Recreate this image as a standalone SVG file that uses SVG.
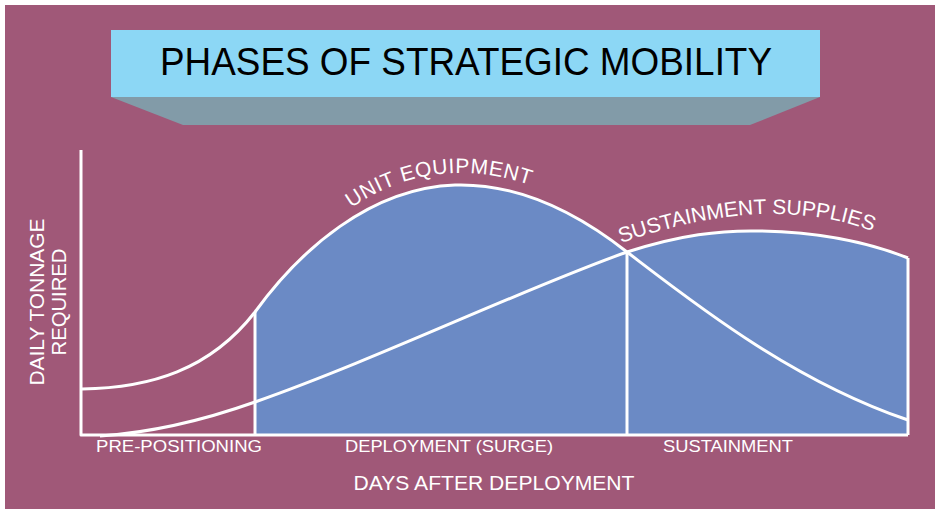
<svg xmlns="http://www.w3.org/2000/svg" width="935" height="509" viewBox="0 0 935 509">
<style>
.lbl{font-family:"Liberation Sans",Arial,sans-serif;fill:#fff}
.ln{fill:none;stroke:#fff;stroke-width:3;stroke-linejoin:round}
</style>
<rect x="0" y="0" width="935" height="509" fill="#fff"/>
<rect x="5" y="5" width="930" height="504" fill="#A05878"/>
<g id="title">
<polygon points="111,97 820,97 750,125 183,125" fill="#829BA8"/>
<rect x="111" y="30" width="709" height="67" fill="#8CD7F5"/>
<text x="466" y="75" text-anchor="middle" font-family="Liberation Sans,Arial,sans-serif" font-size="39" fill="#000" textLength="612" lengthAdjust="spacingAndGlyphs">PHASES OF STRATEGIC MOBILITY</text>
</g>
<g id="area">
<path d="M255,312 C300,250 370,188 455,185 C520,183 580,215 627,252 C680,235 720,230 760,231 C820,232 870,243 908,258 L908,435 L255,435 Z" fill="#6B8AC5"/>
</g>
<g id="connectors">
<path class="ln" d="M81,150 L81,435 L908,435"/>
<path class="ln" d="M82,389 C150,388 210,370 255,312 C300,250 370,188 455,185 C520,183 580,215 627,252 C690,300 790,380 908,420"/>
<path class="ln" d="M100,436 C160,432 210,418 255,402 C380,358 520,290 627,252 C680,235 720,230 760,231 C820,232 870,243 908,258"/>
<line class="ln" x1="255" y1="312" x2="255" y2="435"/>
<line class="ln" x1="627" y1="252" x2="627" y2="435"/>
<line class="ln" x1="908" y1="258" x2="908" y2="435" stroke-width="2"/>
</g>
<defs>
<path id="p1" d="M345,213 C380,186 420,173 460,173 C490,173 515,179 545,190"/>
<path id="p2" d="M618,244 C680,222 740,212 780,214 C830,216 860,225 885,237"/>
</defs>
<g id="curve-labels">
<text class="lbl" font-size="21" letter-spacing="0.6"><textPath href="#p1" startOffset="8">UNIT EQUIPMENT</textPath></text>
<text class="lbl" font-size="21"><textPath href="#p2" startOffset="3">SUSTAINMENT SUPPLIES</textPath></text>
</g>
<g id="axis-labels">
<text class="lbl" x="179" y="452" font-size="17" text-anchor="middle" textLength="166" lengthAdjust="spacingAndGlyphs">PRE-POSITIONING</text>
<text class="lbl" x="449" y="452" font-size="17" text-anchor="middle" textLength="208" lengthAdjust="spacingAndGlyphs">DEPLOYMENT (SURGE)</text>
<text class="lbl" x="728" y="452" font-size="17" text-anchor="middle" textLength="130" lengthAdjust="spacingAndGlyphs">SUSTAINMENT</text>
<text class="lbl" x="494" y="490" font-size="20" text-anchor="middle" textLength="281" lengthAdjust="spacingAndGlyphs">DAYS AFTER DEPLOYMENT</text>
<text class="lbl" transform="translate(44,302) rotate(-90)" font-size="20" text-anchor="middle" textLength="167" lengthAdjust="spacingAndGlyphs">DAILY TONNAGE</text>
<text class="lbl" transform="translate(66,302) rotate(-90)" font-size="20" text-anchor="middle" textLength="107" lengthAdjust="spacingAndGlyphs">REQUIRED</text>
</g>
</svg>
